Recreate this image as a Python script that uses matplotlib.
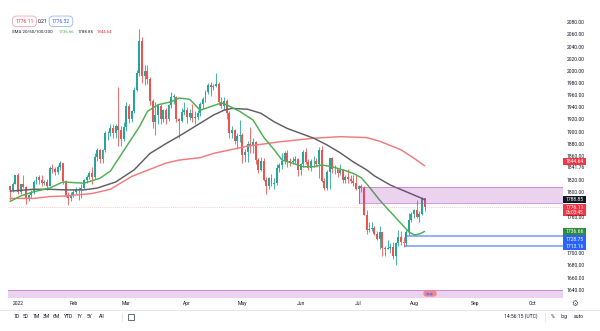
import matplotlib
matplotlib.use("Agg")
import matplotlib.pyplot as plt
from matplotlib.patches import Rectangle
from matplotlib.lines import Line2D
import numpy as np
import pandas as pd

plt.rcParams['font.family'] = ['Roboto', 'DejaVu Sans']

# ---------------- data: XAUUSD daily bars ----------------
open_ = [1811, 1805, 1815,
         1829, 1801, 1814, 1810, 1791, 1797, 1801, 1818, 1826, 1821, 1817, 1818, 1812, 1841, 1839, 1835, 1842, 1849, 1819, 1796, 1791,
         1797, 1801, 1807, 1804, 1808, 1821, 1826, 1833, 1827, 1859, 1870, 1855, 1870, 1898, 1898, 1906, 1898, 1910, 1903, 1889,
         1908, 1943, 1922, 1935, 1970, 1998, 2050, 1992, 2000, 1988, 1951, 1917, 1928, 1943, 1921, 1936, 1921, 1944, 1958, 1958, 1922, 1919, 1933,
         1937, 1925, 1932, 1923, 1925, 1931, 1947, 1954, 1966, 1977, 1974, 1976, 1979, 1950, 1943, 1952, 1931, 1898, 1904, 1885, 1894,
         1896, 1863, 1868, 1881, 1877, 1883, 1854, 1838, 1853, 1822, 1811, 1824, 1815, 1816, 1841, 1846, 1853, 1865, 1853, 1851, 1853, 1856,
         1837, 1847, 1868, 1851, 1841, 1852, 1853, 1848, 1871, 1819, 1808, 1835, 1857, 1839, 1839, 1832, 1838, 1822, 1827, 1823, 1820, 1817,
         1807, 1811, 1808, 1764, 1739, 1740, 1742, 1733, 1725, 1735, 1710, 1708, 1709, 1711, 1696, 1718, 1727, 1719, 1717, 1735, 1756,
         1766, 1772, 1760, 1766, 1791]
high = [1812, 1818, 1830,
        1832, 1815, 1829, 1811, 1798, 1804, 1822, 1828, 1829, 1830, 1821, 1823, 1845, 1847, 1843, 1846, 1853, 1850, 1822, 1801, 1801,
        1807, 1810, 1809, 1815, 1823, 1829, 1836, 1842, 1865, 1874, 1872, 1873, 1902, 1902, 1913, 1914, 1914, 1974, 1910, 1916,
        1950, 1947, 1937, 1974, 2002, 2070, 2056, 2010, 2010, 1990, 1954, 1949, 1946, 1946, 1938, 1939, 1947, 1966, 1963, 1960, 1923, 1940, 1950,
        1942, 1938, 1946, 1934, 1936, 1949, 1958, 1970, 1981, 1982, 1979, 1998, 1982, 1957, 1958, 1954, 1935, 1910, 1905, 1898, 1920,
        1899, 1873, 1885, 1909, 1890, 1886, 1858, 1859, 1858, 1826, 1826, 1831, 1824, 1847, 1850, 1865, 1869, 1870, 1858, 1859, 1860, 1857,
        1850, 1871, 1874, 1855, 1855, 1860, 1857, 1875, 1878, 1825, 1838, 1857, 1859, 1846, 1840, 1847, 1840, 1830, 1840, 1830, 1829, 1829,
        1813, 1815, 1812, 1772, 1752, 1752, 1746, 1738, 1745, 1736, 1713, 1723, 1718, 1719, 1720, 1739, 1737, 1728, 1740, 1767, 1768,
        1774, 1788, 1770, 1794, 1792]
low = [1789, 1802, 1814,
       1799, 1798, 1808, 1782, 1786, 1791, 1799, 1815, 1814, 1811, 1813, 1805, 1811, 1833, 1829, 1831, 1838, 1815, 1794, 1780, 1787,
       1794, 1798, 1788, 1792, 1806, 1816, 1823, 1815, 1823, 1853, 1849, 1850, 1867, 1887, 1893, 1890, 1891, 1878, 1878, 1886,
       1902, 1915, 1917, 1931, 1968, 1993, 1981, 1977, 1979, 1945, 1907, 1895, 1913, 1914, 1917, 1914, 1918, 1940, 1947, 1917, 1890, 1917, 1928,
       1915, 1920, 1917, 1914, 1920, 1927, 1938, 1950, 1962, 1960, 1970, 1974, 1945, 1940, 1937, 1922, 1891, 1891, 1880, 1872, 1884,
       1850, 1851, 1851, 1865, 1865, 1848, 1832, 1836, 1820, 1798, 1807, 1812, 1807, 1813, 1835, 1840, 1848, 1843, 1845, 1848, 1850, 1828,
       1829, 1843, 1848, 1838, 1836, 1843, 1842, 1824, 1818, 1805, 1805, 1806, 1833, 1831, 1826, 1830, 1817, 1816, 1817, 1816, 1812, 1804,
       1784, 1801, 1763, 1732, 1735, 1737, 1730, 1722, 1707, 1697, 1697, 1707, 1701, 1692, 1681, 1713, 1715, 1711, 1712, 1730, 1752,
       1758, 1759, 1752, 1764, 1771]
close = [1805, 1815, 1829,
         1801, 1814, 1810, 1791, 1797, 1801, 1818, 1826, 1821, 1817, 1818, 1812, 1841, 1839, 1835, 1842, 1849, 1819, 1796, 1791, 1797,
         1801, 1807, 1804, 1808, 1821, 1826, 1833, 1827, 1859, 1870, 1855, 1870, 1898, 1898, 1906, 1898, 1910, 1903, 1889, 1908,
         1943, 1922, 1935, 1970, 1998, 2050, 1992, 2000, 1988, 1951, 1917, 1928, 1943, 1921, 1936, 1921, 1944, 1958, 1958, 1922, 1919, 1933, 1937,
         1925, 1932, 1923, 1925, 1931, 1947, 1954, 1966, 1977, 1974, 1976, 1979, 1950, 1943, 1952, 1931, 1898, 1904, 1885, 1894, 1896,
         1863, 1868, 1881, 1877, 1883, 1854, 1838, 1853, 1822, 1811, 1824, 1815, 1816, 1841, 1846, 1853, 1865, 1853, 1851, 1853, 1856, 1837,
         1847, 1868, 1851, 1841, 1852, 1853, 1848, 1871, 1819, 1808, 1835, 1857, 1839, 1839, 1832, 1838, 1822, 1827, 1823, 1820, 1817, 1807,
         1811, 1808, 1764, 1739, 1740, 1742, 1733, 1725, 1735, 1710, 1708, 1709, 1711, 1696, 1718, 1727, 1719, 1717, 1735, 1756, 1766,
         1772, 1760, 1766, 1791, 1776.11]

# moving averages, sampled (bar position, value)
sma20_bar = [0, 4, 9, 15, 20, 28, 34, 38, 44, 49, 52, 56, 61, 64, 68, 72, 76, 80, 82, 87, 92, 96, 100, 103, 107,
             111, 115, 118, 122, 126, 130, 133, 136, 140, 144, 148, 151, 153, 155, 157]
sma20_val = [1786, 1795, 1802, 1808, 1818, 1816, 1824, 1836, 1876, 1909, 1934, 1945, 1950, 1956, 1954, 1936, 1942,
             1948, 1945, 1934, 1920, 1892, 1871, 1854, 1849, 1843, 1843, 1846, 1843, 1838, 1832, 1825, 1810, 1788,
             1769, 1750, 1736, 1731, 1732.5, 1736.66]
sma50_bar = [0, 9, 15, 21, 28, 33, 40, 47, 53, 59, 65, 71, 77, 81, 84, 90, 95, 100, 105, 110, 115, 120, 125,
             130, 135, 138, 144, 150, 156, 157]
sma50_val = [1803, 1806, 1806, 1805, 1805, 1808, 1818, 1838, 1865, 1881, 1896, 1912, 1928, 1936, 1939, 1937.6,
             1931, 1917, 1906, 1898, 1890, 1879, 1866, 1851, 1838, 1828, 1813, 1802, 1791, 1788.85]
sma100_bar = [0, 9, 15, 21, 31, 35, 38, 46, 59, 64, 72, 77, 90, 102, 115, 125, 132, 135, 140, 148, 153, 157]
sma100_val = [1791, 1791, 1794, 1795, 1799, 1803, 1806, 1827, 1849, 1854, 1858, 1865, 1877, 1884, 1890, 1892.5,
              1891.5, 1891, 1885, 1871, 1857, 1844.64]

month_labels = ["2022", "Feb", "Mar", "Apr", "May", "Jun", "Jul", "Aug", "Sep", "Oct"]
price_ticks = [2080, 2060, 2040, 2020, 2000, 1980, 1960, 1940, 1920, 1900, 1880, 1860,
               1820, 1800, 1760, 1700, 1680, 1660, 1640]
last_price = 1776.11
ask_price = 1776.32
spread = "0.21"
resistance_zone = (1784, 1810)
support_levels = [1728.75, 1713.16]
support_from = "2022-07-27"
zone_from = "2022-07-01"
lower_zone_top = 1640
extra_level = 1841.76

# ---------------- layout ----------------
W, H = 600, 331
fig = plt.figure(figsize=(W / 100, H / 100), dpi=100)
fig.patch.set_facecolor("white")
ax = fig.add_axes([8 / W, 1 - 298 / H, (563 - 8) / W, 298 / H])
ax.set_facecolor("white")
for s in ax.spines.values():
    s.set_visible(False)
ax.set_xticks([])
ax.set_yticks([])
ax.set_xlim(-0.79, 209.4)
ax.set_ylim(1627.2, 2117.3)

dates = pd.bdate_range("2021-12-29", "2022-10-31")
n = len(close)
x = np.arange(n)
o = np.array(open_, float)
c = np.array(close, float)
h = np.array(high, float)
l = np.array(low, float)

UP, DOWN = "#26a69a", "#ef5350"
cols = np.where(c >= o, UP, DOWN)
ax.vlines(x, l, h, colors=cols, lw=0.6, zorder=3)
ax.bar(x, np.maximum(np.abs(c - o), 0.8), bottom=np.minimum(o, c), width=0.74,
       color=cols, lw=0, zorder=4)

ax.plot(sma100_bar, sma100_val, color="#f27a7d", lw=1.05, zorder=5, solid_capstyle="round")
ax.plot(sma50_bar, sma50_val, color="#5d5f66", lw=1.05, zorder=5, solid_capstyle="round")
ax.plot(sma20_bar, sma20_val, color="#4caf50", lw=1.05, zorder=5, solid_capstyle="round")

# last price line
ax.axhline(last_price, color="#f23645", lw=0.5, ls=(0, (1.5, 1.5)), alpha=0.35, zorder=2)

# drawn zones and levels
x_right = ax.get_xlim()[1]
zx0 = dates.get_loc(pd.Timestamp(zone_from))
ax.add_patch(Rectangle((zx0, resistance_zone[0]), x_right - zx0,
                       resistance_zone[1] - resistance_zone[0],
                       facecolor="#9c27b0", alpha=0.2, edgecolor="none", zorder=6))
for yv in resistance_zone:
    ax.plot([zx0, x_right], [yv, yv], color="#b45cc4", lw=0.7, alpha=0.6, zorder=6)
ax.plot([zx0, zx0], list(resistance_zone), color="#b45cc4", lw=0.7, alpha=0.6, zorder=6)

x_left = ax.get_xlim()[0]
ax.add_patch(Rectangle((x_left, 1600), x_right - x_left, lower_zone_top - 1600,
                       facecolor="#9c27b0", alpha=0.2, edgecolor="none", zorder=6))
ax.plot([x_left, x_right], [lower_zone_top] * 2, color="#b45cc4", lw=0.7, alpha=0.6, zorder=6)

sx0 = dates.get_loc(pd.Timestamp(support_from))
for lv in support_levels:
    ax.plot([sx0, x_right], [lv, lv], color="#2962ff", lw=1.3, alpha=0.55, zorder=6)


def py(price):
    """pixel row (from top) of a price"""
    return H - ax.transData.transform((0, price))[1]


def px(pos):
    return ax.transData.transform((pos, 0))[0]


def ff(xp, yp):
    return xp / W, 1 - yp / H


TXT = "#131722"
FS = 3.6

# price scale labels
for p in price_ticks:
    fig.text(*ff(575.5, py(p)), f"{p:.2f}", ha="center", va="center", fontsize=FS, color=TXT)
fig.text(*ff(575.5, py(extra_level)), f"{extra_level:.2f}", ha="center", va="center",
         fontsize=FS, color=TXT)


def tag(yc, label, fc, hh=7.4, tc="white"):
    fig.add_artist(Rectangle(ff(563, yc + hh / 2), 23 / W, hh / H, transform=fig.transFigure,
                             facecolor=fc, edgecolor="none"))
    fig.text(*ff(574.5, yc), label, ha="center", va="center", fontsize=FS, color=tc)


tag(py(sma100_val[-1]) - 4.5, f"{sma100_val[-1]:.2f}", "#f23645")
tag(py(sma50_val[-1]), f"{sma50_val[-1]:.2f}", "#131722")
# last price with countdown
yl = py(last_price)
fig.add_artist(Rectangle(ff(563, yl + 9.0), 23 / W, 12.6 / H, transform=fig.transFigure,
                         facecolor="#f23645", edgecolor="none"))
fig.text(*ff(574.5, yl), f"{last_price:.2f}", ha="center", va="center", fontsize=FS, color="white")
fig.text(*ff(574.5, yl + 5.3), "06:03:45", ha="center", va="center", fontsize=FS - 0.3, color="white")
yg = py(sma20_val[-1])
tag(yg, f"{sma20_val[-1]:.2f}", "#2e8b3a")
tag(yg + 7.6, f"{support_levels[0]:.2f}", "#2962ff")
tag(yg + 15.2, f"{support_levels[1]:.2f}", "#2962ff")

# time scale labels
for lab in month_labels:
    if lab == "2022":
        m = 1
    else:
        m = pd.Timestamp(f"2022-{lab}-01").month
    pos = int(np.argmax((dates.year == 2022) & (dates.month == m)))
    fig.text(*ff(px(pos), 303.5), lab, ha="center", va="center", fontsize=FS, color=TXT)

# gear icon on the axes corner
fig.text(*ff(575, 303.5), "\u2699", ha="center", va="center", fontsize=5.5,
         family="DejaVu Sans", color="#50535e")

# event marker on the time line
fig.text(*ff(430, 293.5), "  \u25A0\u25A0  ", ha="center", va="center", fontsize=2.4, color="#5b7cf5",
         family="DejaVu Sans",
         bbox=dict(boxstyle="round,pad=0.35,rounding_size=0.9", fc="#f7838b", ec="none"))

# legend / header
fig.text(*ff(24.5, 21.3), f"{last_price:.2f}", ha="center", va="center", fontsize=FS, color="#f23645",
         bbox=dict(boxstyle="round,pad=0.55,rounding_size=0.8", fc="white", ec="#f7a5ab", lw=0.6))
fig.text(*ff(42.5, 21.3), spread, ha="center", va="center", fontsize=FS, color=TXT)
fig.text(*ff(61, 21.3), f"{ask_price:.2f}", ha="center", va="center", fontsize=FS, color="#2962ff",
         bbox=dict(boxstyle="round,pad=0.55,rounding_size=0.8", fc="white", ec="#9db4ff", lw=0.6))
HS = 3.2
fig.text(*ff(12, 32.3), "SMA 20/50/100/200", ha="left", va="center", fontsize=HS, color=TXT)
fig.text(*ff(58.5, 32.3), f"{sma20_val[-1]:.2f}", ha="left", va="center", fontsize=HS, color="#4caf50")
fig.text(*ff(78, 32.3), f"{sma50_val[-1]:.2f}", ha="left", va="center", fontsize=HS, color=TXT)
fig.text(*ff(97, 32.3), f"{sma100_val[-1]:.2f}", ha="left", va="center", fontsize=HS, color="#f23645")

# bottom toolbar
fig.add_artist(Line2D([0, 1], [1 - 309.5 / H] * 2, color="#e0e3eb", lw=0.6))
ranges = ["1D", "5D", "1M", "3M", "6M", "YTD", "1Y", "5Y", "All"]
range_x = [17, 25.5, 36, 46, 56.5, 69, 79, 89, 102]
for lab, xp in zip(ranges, range_x):
    fig.text(*ff(xp, 316.5), lab, ha="center", va="center", fontsize=FS, color=TXT)
fig.add_artist(Line2D([122 / W] * 2, [1 - 312.5 / H, 1 - 320.5 / H], color="#e0e3eb", lw=0.6))
fig.add_artist(Rectangle(ff(128, 319.5), 6 / W, 6 / H, transform=fig.transFigure,
                         facecolor="none", edgecolor="#50535e", lw=0.6))
fig.text(*ff(521, 316.5), "14:56:15 (UTC)", ha="center", va="center", fontsize=FS, color=TXT)
fig.add_artist(Line2D([545 / W] * 2, [1 - 312.5 / H, 1 - 320.5 / H], color="#e0e3eb", lw=0.6))
fig.text(*ff(553, 316.5), "%", ha="center", va="center", fontsize=FS, color=TXT)
fig.text(*ff(564.5, 316.5), "log", ha="center", va="center", fontsize=FS, color=TXT)
fig.text(*ff(579, 316.5), "auto", ha="center", va="center", fontsize=FS, color=TXT)

fig.savefig("out.png", dpi=100)
